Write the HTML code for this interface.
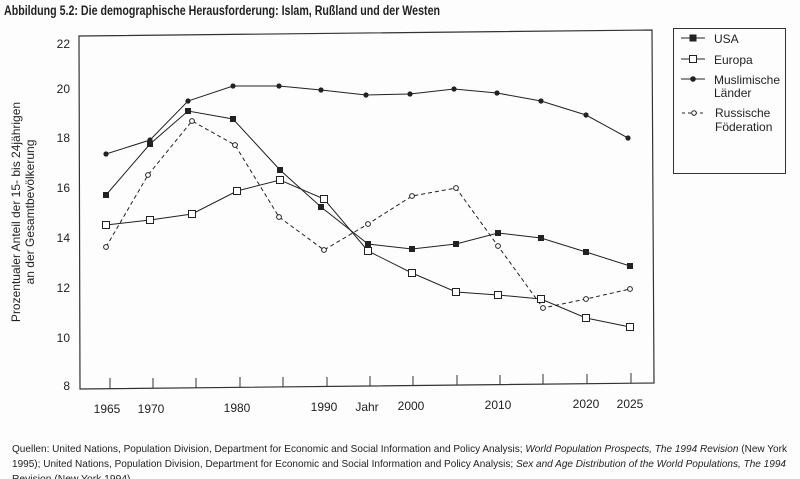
<!DOCTYPE html>
<html><head><meta charset="utf-8"><style>
body{margin:0;background:#fff;}
svg{display:block;font-family:"Liberation Sans",sans-serif;}
</style></head><body>
<svg width="800" height="479" viewBox="0 0 800 479">
<rect width="800" height="479" fill="#fdfdfd"/>
<text x="4" y="15" font-size="13.5" font-weight="bold" fill="#222" textLength="436" lengthAdjust="spacingAndGlyphs">Abbildung 5.2: Die demographische Herausforderung: Islam, Rußland und der Westen</text>
<path d="M79,36 L652,30 L654,383 L80,389 Z" fill="none" stroke="#333" stroke-width="1.2"/>
<g font-size="12" fill="#222" text-anchor="end">
<text x="70" y="48">22</text><text x="70" y="93">20</text><text x="70" y="142">18</text><text x="70" y="192">16</text>
<text x="70" y="242">14</text><text x="70" y="292">12</text><text x="70" y="342">10</text><text x="70" y="390">8</text>
</g>
<g stroke="#333" stroke-width="1">
<line x1="110" y1="378" x2="110" y2="388"/><line x1="153" y1="378" x2="153" y2="388"/><line x1="196" y1="378" x2="196" y2="388"/>
<line x1="240" y1="377" x2="240" y2="387"/><line x1="283" y1="377" x2="283" y2="387"/><line x1="327" y1="377" x2="327" y2="387"/>
<line x1="370" y1="376" x2="370" y2="386"/><line x1="413" y1="376" x2="413" y2="386"/><line x1="457" y1="375" x2="457" y2="385"/>
<line x1="500" y1="375" x2="500" y2="385"/><line x1="543" y1="374" x2="543" y2="384"/><line x1="587" y1="374" x2="587" y2="384"/>
<line x1="631" y1="373" x2="631" y2="383"/>
</g>
<g font-size="12" fill="#222" text-anchor="middle">
<text x="107" y="413">1965</text><text x="151" y="413">1970</text><text x="237" y="412">1980</text>
<text x="324" y="411">1990</text><text x="367" y="411">Jahr</text><text x="411" y="410">2000</text>
<text x="498" y="409">2010</text><text x="586" y="408">2020</text><text x="630" y="408">2025</text>
</g>
<g font-size="12" fill="#222" text-anchor="middle" transform="translate(0,212) rotate(-90)">
<text x="0" y="20">Prozentualer Anteil der 15- bis 24jährigen</text>
<text x="0" y="34">an der Gesamtbevölkerung</text>
</g>
<polyline fill="none" stroke="#222" stroke-width="1" points="106,154 150,140 188,101 233,86 279,86 321,90 366,95 410,94 454,89 497,93 541,101 586,115 628,138"/>
<polyline fill="none" stroke="#222" stroke-width="1" points="106,195 150,144 188,111 233,119 280,170 321,207 368,244 412,249 456,244 498,233 541,238 586,252 630,266"/>
<polyline fill="none" stroke="#222" stroke-width="1" points="106,225 150,220 192,214 237,191 280,180 324,199 368,251 412,273 456,292 498,295 541,299 586,318 630,327"/>
<polyline fill="none" stroke="#222" stroke-width="1" stroke-dasharray="4,3" points="106,247 148,175 192,121 235,145 279,217 324,250 368,224 412,196 456,188 498,246 543,308 586,299 630,289"/>
<g fill="#222">
<circle cx="106" cy="154" r="2.6"/><circle cx="150" cy="140" r="2.6"/><circle cx="188" cy="101" r="2.6"/><circle cx="233" cy="86" r="2.6"/><circle cx="279" cy="86" r="2.6"/><circle cx="321" cy="90" r="2.6"/><circle cx="366" cy="95" r="2.6"/><circle cx="410" cy="94" r="2.6"/><circle cx="454" cy="89" r="2.6"/><circle cx="497" cy="93" r="2.6"/><circle cx="541" cy="101" r="2.6"/><circle cx="586" cy="115" r="2.6"/><circle cx="628" cy="138" r="2.6"/>
</g>
<g fill="#222">
<rect x="103" y="192" width="6" height="6"/><rect x="147" y="141" width="6" height="6"/><rect x="185" y="108" width="6" height="6"/><rect x="230" y="116" width="6" height="6"/><rect x="277" y="167" width="6" height="6"/><rect x="318" y="204" width="6" height="6"/><rect x="365" y="241" width="6" height="6"/><rect x="409" y="246" width="6" height="6"/><rect x="453" y="241" width="6" height="6"/><rect x="495" y="230" width="6" height="6"/><rect x="538" y="235" width="6" height="6"/><rect x="583" y="249" width="6" height="6"/><rect x="627" y="263" width="6" height="6"/>
</g>
<g fill="#fff" stroke="#222" stroke-width="1">
<rect x="102.5" y="221.5" width="7" height="7"/><rect x="146.5" y="216.5" width="7" height="7"/><rect x="188.5" y="210.5" width="7" height="7"/><rect x="233.5" y="187.5" width="7" height="7"/><rect x="276.5" y="176.5" width="7" height="7"/><rect x="320.5" y="195.5" width="7" height="7"/><rect x="364.5" y="247.5" width="7" height="7"/><rect x="408.5" y="269.5" width="7" height="7"/><rect x="452.5" y="288.5" width="7" height="7"/><rect x="494.5" y="291.5" width="7" height="7"/><rect x="537.5" y="295.5" width="7" height="7"/><rect x="582.5" y="314.5" width="7" height="7"/><rect x="626.5" y="323.5" width="7" height="7"/>
</g>
<g fill="#fff" stroke="#222" stroke-width="1">
<circle cx="106" cy="247" r="2.4"/><circle cx="148" cy="175" r="2.4"/><circle cx="192" cy="121" r="2.4"/><circle cx="235" cy="145" r="2.4"/><circle cx="279" cy="217" r="2.4"/><circle cx="324" cy="250" r="2.4"/><circle cx="368" cy="224" r="2.4"/><circle cx="412" cy="196" r="2.4"/><circle cx="456" cy="188" r="2.4"/><circle cx="498" cy="246" r="2.4"/><circle cx="543" cy="308" r="2.4"/><circle cx="586" cy="299" r="2.4"/><circle cx="630" cy="289" r="2.4"/>
</g>
<rect x="673.5" y="28.5" width="112" height="145" fill="none" stroke="#333" stroke-width="1"/>
<g stroke="#222" stroke-width="1">
<line x1="681" y1="38" x2="705" y2="38"/><rect x="690" y="35" width="6" height="6" fill="#222"/>
<line x1="681" y1="59" x2="705" y2="59"/><rect x="689.5" y="55.5" width="7" height="7" fill="#fff"/>
<line x1="681" y1="79" x2="705" y2="79"/><circle cx="693" cy="79" r="2.3" fill="#222"/>
<line x1="682" y1="113" x2="706" y2="113" stroke-dasharray="3,3"/><circle cx="694" cy="113" r="2.3" fill="#fff"/>
</g>
<g font-size="12" fill="#222">
<text x="714" y="43">USA</text><text x="714" y="64">Europa</text>
<text x="714" y="84">Muslimische</text><text x="714" y="97">Länder</text>
<text x="715" y="117">Russische</text><text x="715" y="131">Föderation</text>
</g>
<g font-size="10.3" fill="#222">
<text x="12" y="452" textLength="775" lengthAdjust="spacingAndGlyphs">Quellen: United Nations, Population Division, Department for Economic and Social Information and Policy Analysis; <tspan font-style="italic">World Population Prospects, The 1994 Revision</tspan> (New York</text>
<text x="12" y="467" textLength="774" lengthAdjust="spacingAndGlyphs">1995); United Nations, Population Division, Department for Economic and Social Information and Policy Analysis; <tspan font-style="italic">Sex and Age Distribution of the World Populations, The 1994</tspan></text>
<text x="12" y="482">Revision (New York 1994).</text>
</g>
</svg>
</body></html>
